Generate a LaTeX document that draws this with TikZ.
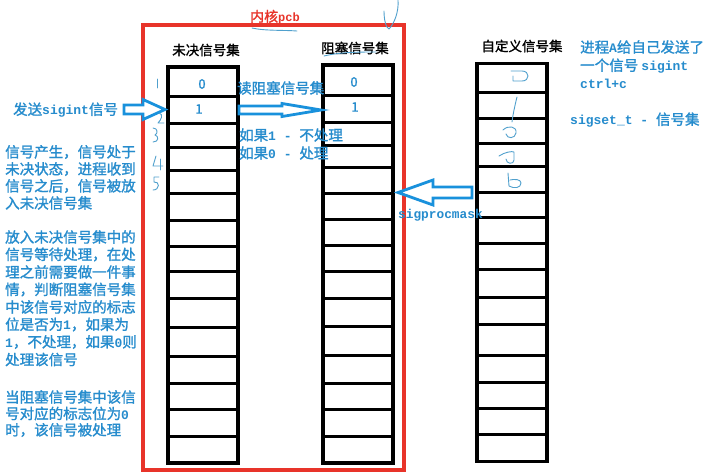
\documentclass[tikz,border=0pt]{standalone}
\usepackage{fontspec}
\newfontfamily\cjkb{Noto Sans CJK SC}[FakeBold=1.4]
\newfontfamily\mono{Liberation Mono}
\newcommand\lat[1]{{\mono\bfseries\fontsize{13}{17}\selectfont #1}}
\definecolor{tblue}{RGB}{38,140,205}
\definecolor{ablue}{RGB}{25,145,220}
\definecolor{hblue}{RGB}{80,160,205}
\definecolor{pred}{RGB}{232,52,42}
\tikzset{
  btext/.style={text=tblue, font=\cjkb\fontsize{14.5}{17}\selectfont, anchor=west, inner sep=0pt},
  ttl/.style={text=black, font=\cjkb\fontsize{13.5}{16}\selectfont, inner sep=0pt},
  val/.style={text=tblue, font=\cjkb\fontsize{13}{15}\selectfont, inner sep=0pt},
  colbox/.style={draw=black, line width=3.5pt, inner sep=0pt, outer sep=0pt, minimum width=70pt},
  rowline/.style={draw=black, line width=3pt},
  harrow/.style={draw=ablue, line width=2.8pt, fill=white, line join=miter},
  hand/.style={draw=hblue, line width=0.9pt, line cap=round, line join=round},
  redbox/.style={draw=pred, line width=3.5pt}
}
% tail, y, head base, tip, shaft half, head half
\newcommand\hollowarrow[6]{%
  \draw[harrow] (#1,#2-#5) -- (#3,#2-#5) -- (#3,#2-#6) -- (#4,#2) -- (#3,#2+#6) -- (#3,#2+#5) -- (#1,#2+#5) -- cycle;}
\begin{document}
\begin{tikzpicture}[x=1pt,y=-1pt]
\useasboundingbox (0,0) rectangle (706,474);
\fill[white] (0,0) rectangle (706,474);

% red kernel box
\node[redbox, minimum width=261pt, minimum height=445pt, inner sep=0pt, outer sep=0pt] (kernel) at (273.5,247.5) {};
\node[text=pred, font=\cjkb\fontsize{14}{16}\selectfont, inner sep=0pt] (kernlbl) at (275,17) {内核{\mono\bfseries\fontsize{12}{14}\selectfont pcb}};

% columns
\node[colbox, minimum height=396pt] (c1) at (203,265) {};
\node[colbox, minimum height=398pt] (c2) at (358,264) {};
\node[colbox, minimum height=398pt] (c3) at (512,262.5) {};
\foreach \yy in {96,123,147,170,193,220,246,271,298,327,356,383,409,436}
  \draw[rowline] (168,\yy) -- (238,\yy);
\foreach \yy in {95,122,145,167,193,219,245,271,298,326,355,383,409,436}
  \draw[rowline] (323,\yy) -- (393,\yy);
\foreach \yy in {92,118,143,166,192,217,243,269,297,324,355,382,408,434}
  \draw[rowline] (477,\yy) -- (547,\yy);

% titles
\node[ttl] (t1) at (206,50) {未决信号集};
\node[ttl] (t2) at (355,48) {阻塞信号集};
\node[ttl] (t3) at (522,46) {自定义信号集};

% values
\node[val] (v10) at (202,84) {0};
\node[val] (v11) at (199,109) {1};
\node[val] (v20) at (354,82) {0};
\node[val] (v21) at (355,107) {1};

% arrows
\hollowarrow{124}{109.5}{143}{165}{4.5}{10}
\hollowarrow{239}{110}{282}{321}{4}{6.5}
\hollowarrow{472}{192.5}{433}{398}{5.5}{12.5}

% texts
\node[btext] (send) at (13,110) {发送\lat{sigint}信号};
\node[btext] (read) at (237,88) {读阻塞信号集};
\node[btext] (if1) at (239,135) {如果\lat{1 - }不处理};
\node[btext] (if0) at (239,153) {如果\lat{0 - }处理};
\node[text=tblue, anchor=west, inner sep=0pt, font=\mono\bfseries\fontsize{12.8}{15}\selectfont] (mask) at (398,215) {sigprocmask};

\node[btext] (a1) at (5,152) {信号产生，信号处于};
\node[btext] (a2) at (5,169) {未决状态，进程收到};
\node[btext] (a3) at (5,186) {信号之后，信号被放};
\node[btext] (a4) at (5,203) {入未决信号集};

\node[btext] (b1) at (5,237) {放入未决信号集中的};
\node[btext] (b2) at (5,254.5) {信号等待处理，在处};
\node[btext] (b3) at (5,272) {理之前需要做一件事};
\node[btext] (b4) at (5,289.5) {情，判断阻塞信号集};
\node[btext] (b5) at (5,307) {中该信号对应的标志};
\node[btext] (b6) at (5,324.5) {位是否为\lat{1}，如果为};
\node[btext] (b7) at (5,342) {\lat{1}，不处理，如果\lat{0}则};
\node[btext] (b8) at (5,359.5) {处理该信号};

\node[btext] (d1) at (5,397) {当阻塞信号集中该信};
\node[btext] (d2) at (5,413.5) {号对应的标志位为\lat{0}};
\node[btext] (d3) at (5,430) {时，该信号被处理};

\node[btext] (r1) at (580,47) {进程\lat{A}给自己发送了};
\node[btext] (r2) at (580,66) {一个信号 \lat{sigint}};
\node[btext] (r3) at (580,84) {\lat{ctrl+c}};
\node[btext] (r4) at (570,120) {\lat{sigset\_t - }信号集};

% handwritten marks
\draw[hand] (252,28) .. controls (265,31) and (285,30) .. (297,31);
\draw[hand] (324,56) .. controls (340,52) and (360,52) .. (376,52);
\draw[hand] (384,11) .. controls (384,20) and (386,28) .. (389,29) .. controls (394,24) and (399,12) .. (398,0);

\draw[hand] (157,79) -- (157,88);
\draw[hand] (159,113) .. controls (164,114) and (161,120) .. (158,123) -- (164,123);
\draw[hand] (153,128) .. controls (158,128) and (158,134) .. (155,135) .. controls (159,136) and (159,142) .. (153,142);
\draw[hand] (156,156) -- (153,166) -- (163,166);
\draw[hand] (160,159) -- (160,170);
\draw[hand] (159,177) -- (154,177) -- (154,182) .. controls (160,181) and (160,190) .. (153,190);

\draw[hand] (513,76) -- (513,81) -- (522,81) .. controls (530,81) and (530,71) .. (522,71) -- (511,71);
\draw[hand] (517,97) .. controls (515,105) and (513,114) .. (512,122);
\draw[hand] (503,130) .. controls (508,125) and (517,126) .. (516,133) .. controls (515,139) and (507,139) .. (506,134);
\draw[hand] (499,156) .. controls (505,152) and (512,151) .. (514,152) -- (514,160) .. controls (514,165) and (506,164) .. (506,159);
\draw[hand] (508,173) -- (509,186) .. controls (514,189) and (521,188) .. (521,183) .. controls (521,179) and (514,179) .. (510,180);
\end{tikzpicture}
\end{document}
